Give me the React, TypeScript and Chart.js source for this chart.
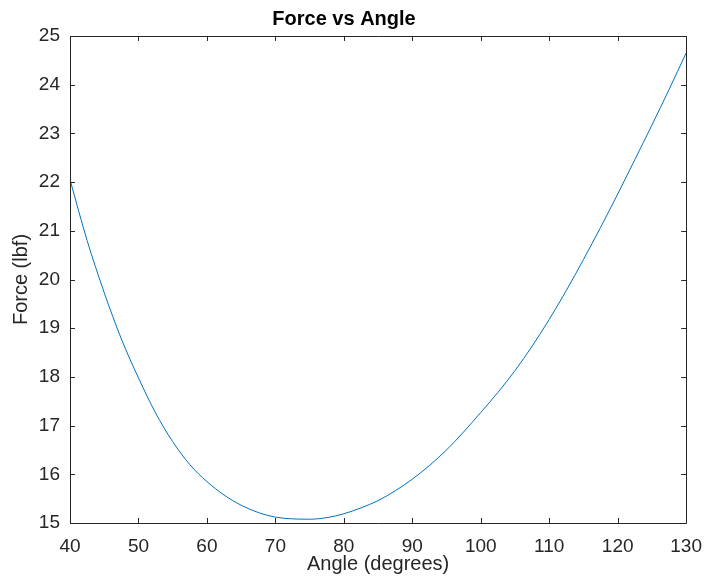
import React, { useEffect, useRef } from "react";
import { Chart, registerables } from "chart.js";

Chart.register(...registerables);

const angles = [
  40, 42.5, 45, 47.5, 50, 52.5, 55, 57.5, 60, 62.5, 65, 67.5, 70, 72.5, 75, 77.5, 80,
  82.5, 85, 87.5, 90, 92.5, 95, 97.5, 100, 102.5, 105, 107.5, 110, 112.5, 115, 117.5,
  120, 122.5, 125, 127.5, 130,
];
const forces = [
  22.05, 20.8, 19.73, 18.78, 17.98, 17.26, 16.67, 16.2, 15.85, 15.575, 15.365, 15.215, 15.12,
  15.085, 15.078, 15.11, 15.19, 15.31, 15.46, 15.66, 15.9, 16.18, 16.5, 16.87, 17.27, 17.68,
  18.13, 18.63, 19.18, 19.775, 20.41, 21.07, 21.755, 22.46, 23.17, 23.9, 24.65,
];
const xTicks = { min: 40, max: 130, step: 10 };
const yTicks = { min: 15, max: 25, step: 1 };
const titleText = "Force vs Angle";
const xTitle = "Angle (degrees)";
const yTitle = "Force (lbf)";

const FONT = "'Liberation Sans', Arial, Helvetica, sans-serif";
const AXIS = "#262626";

const boxPlugin = {
  id: "matlabBox",
  afterDatasetsDraw(chart: any) {
    const { ctx, chartArea } = chart;
    const { left, right, top, bottom } = chartArea;
    const xs = chart.scales.x;
    const ys = chart.scales.y;
    const tl = 5;
    ctx.save();
    ctx.strokeStyle = AXIS;
    ctx.lineWidth = 1;
    ctx.beginPath();
    ctx.rect(Math.round(left) + 0.5, Math.round(top) + 0.5, Math.round(right - left), Math.round(bottom - top));
    ctx.stroke();
    ctx.beginPath();
    xs.ticks.forEach((t: any) => {
      const px = Math.round(xs.getPixelForValue(t.value)) + 0.5;
      ctx.moveTo(px, bottom);
      ctx.lineTo(px, bottom - tl);
      ctx.moveTo(px, top);
      ctx.lineTo(px, top + tl);
    });
    ys.ticks.forEach((t: any) => {
      const py = Math.round(ys.getPixelForValue(t.value)) + 0.5;
      ctx.moveTo(left, py);
      ctx.lineTo(left + tl, py);
      ctx.moveTo(right, py);
      ctx.lineTo(right - tl, py);
    });
    ctx.stroke();
    ctx.restore();
  },
};

export default function App() {
  const ref = useRef<HTMLCanvasElement | null>(null);
  useEffect(() => {
    if (!ref.current) return;
    const chart = new Chart(ref.current, {
      type: "line",
      data: {
        datasets: [
          {
            data: angles.map((a, i) => ({ x: a, y: forces[i] })),
            borderColor: "#0072BD",
            borderWidth: 1,
            pointRadius: 0,
            fill: false,
            cubicInterpolationMode: "monotone",
          },
        ],
      },
      options: {
        responsive: false,
        animation: false,
        events: [],
        layout: { padding: { left: 0, right: 26, top: 0, bottom: 0 } },
        plugins: {
          legend: { display: false },
          tooltip: { enabled: false },
          title: {
            display: true,
            text: titleText,
            color: "#000",
            font: { family: FONT, size: 20, weight: "bold", lineHeight: 1.2 },
            padding: { top: 7, bottom: 5 },
          },
        },
        scales: {
          x: {
            type: "linear",
            min: xTicks.min,
            max: xTicks.max,
            grid: { display: false, drawTicks: false },
            border: { display: false },
            ticks: {
              stepSize: xTicks.step,
              color: AXIS,
              padding: 12,
              maxRotation: 0,
              font: { family: FONT, size: 19 },
            },
            title: {
              display: true,
              text: xTitle,
              color: AXIS,
              font: { family: FONT, size: 20, lineHeight: 1.2 },
              padding: { top: 0, bottom: 6 },
            },
            afterFit: (s: any) => {
              s.height = 59;
            },
          },
          y: {
            type: "linear",
            min: yTicks.min,
            max: yTicks.max,
            grid: { display: false, drawTicks: false },
            border: { display: false },
            ticks: {
              stepSize: yTicks.step,
              color: AXIS,
              padding: 10,
              font: { family: FONT, size: 19 },
            },
            title: {
              display: true,
              text: yTitle,
              color: AXIS,
              font: { family: FONT, size: 20, lineHeight: 1.2 },
              padding: { top: 9, bottom: 0 },
            },
            afterFit: (s: any) => {
              s.width = 70;
            },
          },
        },
      },
      plugins: [boxPlugin],
    } as any);
    return () => chart.destroy();
  }, []);
  return (
    <div style={{ position: "absolute", left: 0, top: 0, width: 714, height: 582, background: "#fff" }}>
      <canvas ref={ref} width={714} height={582} style={{ display: "block" }} />
    </div>
  );
}
